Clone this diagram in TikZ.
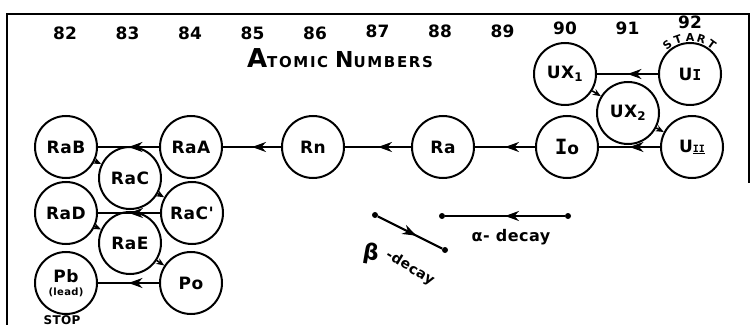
\documentclass[tikz,border=0pt]{standalone}
\usepackage{fontspec}
\setmainfont{DejaVu Sans}
\newfontfamily\hand{DejaVu Sans}[LetterSpace=3]
\newfontfamily\titlefont{DejaVu Sans}[LetterSpace=11]
\newfontfamily\serI{DejaVu Sans Mono}
\usetikzlibrary{arrows.meta,decorations.markings}
\begin{document}
\begin{tikzpicture}[x=1pt,y=1pt,
  iso/.style={circle, draw, line width=2pt, minimum size=62pt, inner sep=0pt,
    font=\hand\bfseries\fontsize{17}{17}\selectfont},
  alphaline/.style={line width=2.1pt, postaction={decorate},
    decoration={markings, mark=at position #1 with {\arrow{Stealth[length=14pt,width=10pt]}}}},
  alphaline/.default=0.5,
  betaline/.style={line width=1.6pt, -{Stealth[length=8pt,width=6.5pt]}},
  num/.style={font=\fontsize{17}{17}\selectfont\bfseries},
  legdot/.style={circle, fill, inner sep=0pt, minimum size=6pt}
]
\useasboundingbox (0,0) rectangle (751,324);

% frame
\draw[line width=2.8pt] (7,-5) -- (7,310) -- (749,310) -- (749,141);

% atomic numbers
\foreach \n/\yy [count=\i from 0] in {82/291,83/291,84/291,85/291,86/291,87/293,88/293,89/293,90/296,91/296,92/302}
  \node[num] (n\n) at (65+62.5*\i,\yy) {\n};
\node (title) at (340,266) {\titlefont\bfseries\fontsize{26}{26}\selectfont A\fontsize{15}{15}\selectfont TOMIC \fontsize{22}{22}\selectfont N\fontsize{15}{15}\selectfont UMBERS};

% isotopes
\node[iso] (UI)   at (690,250) {U{\serI\bfseries\fontsize{15}{15}\selectfont I}};
\node[iso] (UX1)  at (565,250) {UX\textsubscript{1}};
\node[iso] (UX2)  at (628,211) {UX\textsubscript{2}};
\node[iso] (UII)  at (692,177) {U{\serI\bfseries\fontsize{10}{10}\selectfont\underline{II}}};
\node[iso] (Io)   at (567,177) {{\serI\bfseries\fontsize{21}{21}\selectfont I}o};
\node[iso] (Ra)   at (443,177) {Ra};
\node[iso] (Rn)   at (313,177) {Rn};
\node[iso] (RaA)  at (191,177) {RaA};
\node[iso] (RaB)  at (66,177)  {RaB};
\node[iso] (RaC)  at (130,146) {RaC};
\node[iso] (RaCp) at (192,111) {RaC'};
\node[iso] (RaD)  at (66,111)  {RaD};
\node[iso] (RaE)  at (130,81)  {RaE};
\node[iso] (Po)   at (191,41)  {Po};
\node[iso, align=center] (Pb) at (66,41) {Pb\\[-4pt]{\fontsize{10}{10}\selectfont (lead)}};

% START / STOP
\foreach \l/\a [count=\k] in {S/-38,T/-19,A/0,R/18,T/36}
  \node[font=\bfseries\fontsize{11}{11}\selectfont, rotate=-\a, inner sep=0pt] (start\k) at ([shift={(90-\a:37pt)}]UI.center) {\l};
\node[font=\hand\bfseries\fontsize{12}{12}\selectfont, inner sep=0pt] (stop) at (62,4) {STOP};

% alpha decays
\draw[alphaline] (UI) -- (UX1);
\draw[alphaline] (UII) -- (Io);
\draw[alphaline] (Io) -- (Ra);
\draw[alphaline] (Ra) -- (Rn);
\draw[alphaline] (Rn) -- (RaA);
\draw[alphaline] (RaA) -- (RaB);
\draw[alphaline] (RaCp) -- (RaD);
\draw[alphaline] (Po) -- (Pb);

% beta decays
\draw[betaline] (UX1) -- (UX2);
\draw[betaline] (UX2) -- (UII);
\draw[betaline] (RaB) -- (RaC);
\draw[betaline] (RaC) -- (RaCp);
\draw[betaline] (RaD) -- (RaE);
\draw[betaline] (RaE) -- (Po);

% legend
\node[legdot] (a1) at (568,108) {};
\node[legdot] (a2) at (442,108) {};
\draw[alphaline=0.5] (a1) -- (a2);
\node[font=\hand\bfseries\fontsize{16}{16}\selectfont] (alab) at (511,87) {α- decay};

\node[legdot] (b1) at (375,109) {};
\node[legdot] (b2) at (445,74) {};
\draw[alphaline=0.6] (b1) -- (b2);
\node[font=\bfseries\fontsize{22}{22}\selectfont, rotate=-10] (bsym) at (371,70) {β};
\node[rotate=-31, font=\hand\bfseries\fontsize{14}{14}\selectfont] (blab) at (410,56) {-decay};
\end{tikzpicture}
\end{document}
